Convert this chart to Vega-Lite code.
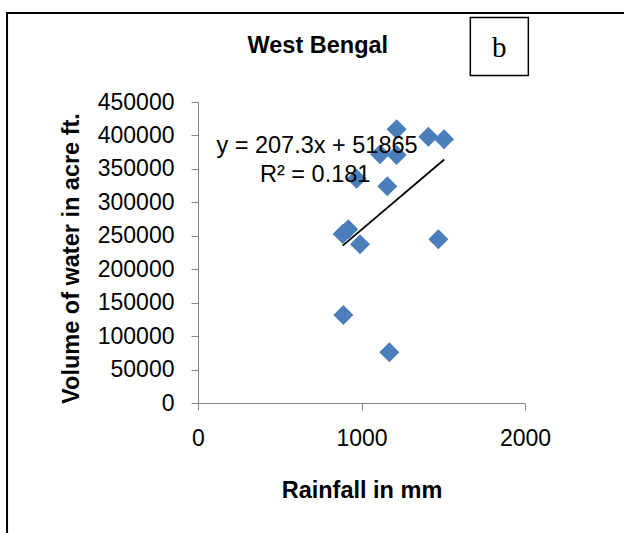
{
  "$schema": "https://vega.github.io/schema/vega-lite/v6.json",
  "autosize": {"type": "none"},
  "width": 327,
  "height": 301,
  "padding": {"left": 198, "top": 102, "right": 99, "bottom": 130},
  "background": "white",
  "datasets": {
    "points": [
      {"x": 1215, "y": 409200},
      {"x": 1409, "y": 398100},
      {"x": 1505, "y": 394200},
      {"x": 1113, "y": 371800},
      {"x": 1215, "y": 370800},
      {"x": 970, "y": 335200},
      {"x": 1158, "y": 323900},
      {"x": 885, "y": 252700},
      {"x": 919, "y": 259700},
      {"x": 991, "y": 237300},
      {"x": 1470, "y": 244700},
      {"x": 889, "y": 131600},
      {"x": 1170, "y": 75800}
    ],
    "trend": [
      {"x": 885, "y": 235330},
      {"x": 1506, "y": 364050}
    ],
    "equation": [
      {"x": 728, "y": 373300, "label": "y = 207.3x + 51865"},
      {"x": 717, "y": 331100, "label": "R² = 0.181"}
    ],
    "heading": [
      {"x": 733, "y": 523250, "label": "West Bengal"}
    ],
    "panel": [
      {"x": 1843, "y": 533000, "label": "b", "ly": 517700}
    ],
    "frame": [
      {"x": -1168, "x2": 4000, "y": 583050, "y2": -400000}
    ]
  },
  "config": {
    "view": {"stroke": null},
    "axis": {
      "grid": false,
      "labelFont": "Liberation Sans",
      "labelFontSize": 23,
      "labelColor": "black",
      "labelFlush": false,
      "labelOverlap": false,
      "tickColor": "#868686",
      "domainColor": "#868686",
      "tickSize": 7,
      "labelPadding": 17,
      "titleFont": "Liberation Sans",
      "titleFontSize": 23.5,
      "titleFontWeight": "bold",
      "titleColor": "black"
    }
  },
  "encoding": {
    "x": {
      "field": "x", "type": "quantitative",
      "scale": {"domain": [0, 2000], "nice": false, "zero": false},
      "axis": {"values": [0, 1000, 2000], "format": "d", "labelOverlap": false, "labelFlush": false, "title": "Rainfall in mm", "titlePadding": 28}
    },
    "y": {
      "field": "y", "type": "quantitative",
      "scale": {"domain": [0, 450000], "nice": false, "zero": false},
      "axis": {"values": [0, 50000, 100000, 150000, 200000, 250000, 300000, 350000, 400000, 450000], "tickCount": 10, "format": "d", "labelOverlap": false, "labelFlush": false, "labelSeparation": 0, "title": "Volume of water in acre ft.", "titlePadding": 14, "titleY": 156}
    }
  },
  "layer": [
    {
      "data": {"name": "frame"},
      "mark": {"type": "rect", "fill": "transparent", "stroke": "black", "strokeWidth": 2, "clip": false},
      "encoding": {
        "x2": {"field": "x2"},
        "y2": {"field": "y2"}
      }
    },
    {
      "data": {"name": "points"},
      "mark": {"type": "point", "shape": "diamond", "filled": true, "size": 400, "color": "#4A7EBB", "opacity": 1}
    },
    {
      "data": {"name": "trend"},
      "mark": {"type": "line", "color": "black", "strokeWidth": 1.8},
      "encoding": {}
    },
    {
      "data": {"name": "equation"},
      "mark": {"type": "text", "font": "Liberation Sans", "fontSize": 23.5, "color": "black", "align": "center", "baseline": "alphabetic"},
      "encoding": {
        "text": {"field": "label"}
      }
    },
    {
      "data": {"name": "heading"},
      "mark": {"type": "text", "font": "Liberation Sans", "fontSize": 23.5, "fontWeight": "bold", "color": "black", "align": "center", "baseline": "alphabetic", "clip": false},
      "encoding": {
        "text": {"field": "label"}
      }
    },
    {
      "data": {"name": "panel"},
      "mark": {"type": "point", "shape": "square", "filled": false, "size": 3364, "stroke": "black", "strokeWidth": 1.5, "opacity": 1, "clip": false}
    },
    {
      "data": {"name": "panel"},
      "mark": {"type": "text", "font": "Liberation Serif", "fontSize": 29, "color": "black", "align": "center", "baseline": "alphabetic", "clip": false},
      "encoding": {
        "y": {"field": "ly", "type": "quantitative"},
        "text": {"field": "label"}
      }
    }
  ]
}
